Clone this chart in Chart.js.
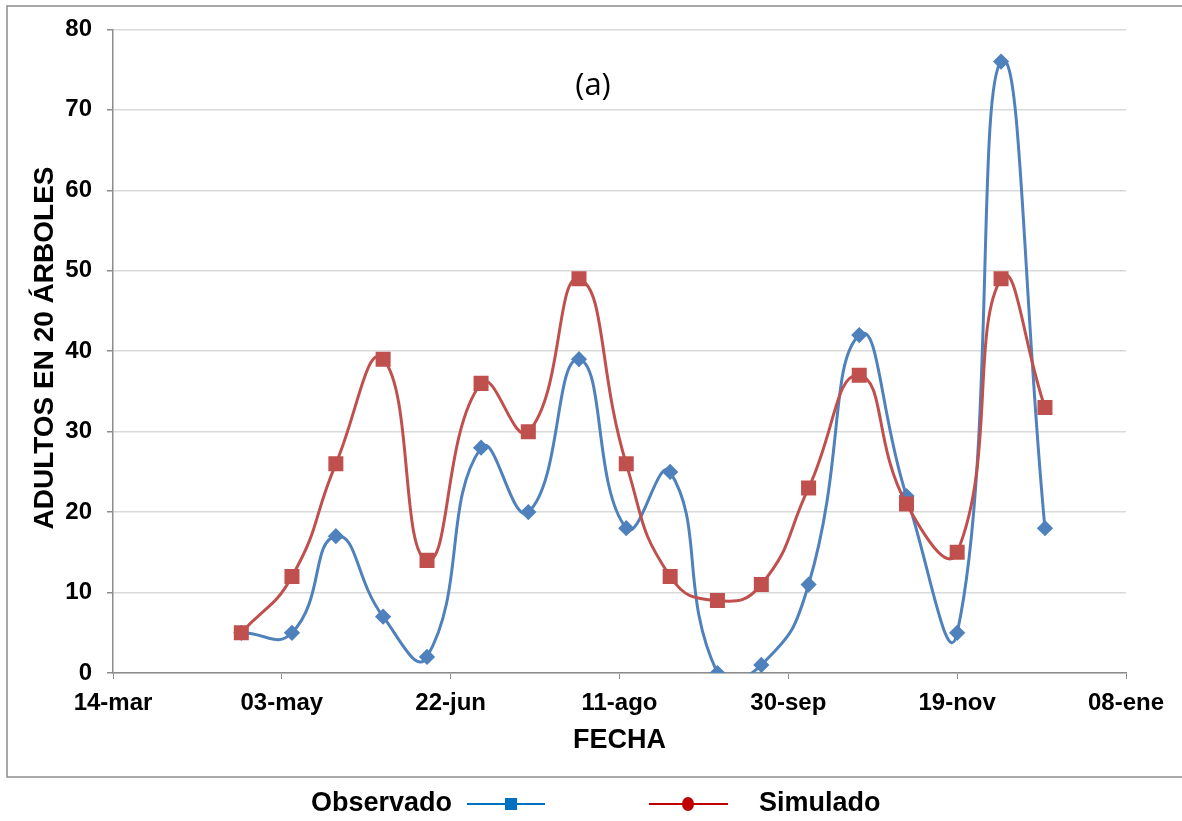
<!DOCTYPE html>
<html>
<head>
<meta charset="utf-8">
<title>Adultos en 20 árboles</title>
<script src="https://cdn.jsdelivr.net/npm/chart.js@4"></script>
<style>
  html, body { margin: 0; padding: 0; background: #ffffff; }
  #wrap { position: relative; width: 1182px; height: 821px; }
</style>
</head>
<body>
<div id="wrap"><canvas id="grafico" width="1182" height="821"></canvas></div>
<script>

// ==========================
// DATA
// ==========================

// days counted from 14-mar
const dias = [38, 53, 66, 80, 93, 109, 123, 138, 152, 165, 179, 192, 206, 221, 235, 250, 263, 276];

const observado = [5, 5, 17, 7, 2, 28, 20, 39, 18, 25, 0, 1, 11, 42, 22, 5, 76, 18];

const simulado = [5, 12, 26, 39, 14, 36, 30, 49, 26, 12, 9, 11, 23, 37, 21, 15, 49, 33];

const etiquetasFecha = ["14-mar", "03-may", "22-jun", "11-ago", "30-sep", "19-nov", "08-ene"];
const pasoFecha = 50;

const etiquetasY = [0, 10, 20, 30, 40, 50, 60, 70, 80];


// ==========================
// TEXT AND LEGEND PLUGIN
// ==========================

const textos = {

    id: "textos",

    afterDraw(chart) {

        const ctx = chart.ctx;
        const area = chart.chartArea;

        ctx.save();

        // outer frame
        ctx.strokeStyle = "#8c8c8c";
        ctx.lineWidth = 1.5;
        ctx.strokeRect(7, 6, 1210, 771);

        ctx.fillStyle = "#000000";
        ctx.textBaseline = "middle";
        ctx.textAlign = "center";

        // (a)
        ctx.font = "31px 'Open Sans', 'Noto Sans', sans-serif";
        ctx.fillText("(a)", 593, 86);

        // x title
        ctx.font = "bold 27px 'Liberation Sans', Arial, sans-serif";
        ctx.fillText("FECHA", (area.left + area.right) / 2, 741);

        // y title
        ctx.font = "bold 28px 'Liberation Sans', Arial, sans-serif";
        ctx.save();
        ctx.translate(45, 348);
        ctx.rotate(-Math.PI / 2);
        ctx.fillText("ADULTOS EN 20 ÁRBOLES", 0, 0);
        ctx.restore();

        // legend
        const ly = 804;
        ctx.font = "bold 27px 'Liberation Sans', Arial, sans-serif";
        ctx.textAlign = "right";
        ctx.fillText("Observado", 452, ly);
        ctx.textAlign = "left";
        ctx.fillText("Simulado", 759, ly);

        ctx.lineWidth = 2;
        ctx.strokeStyle = "#0070c0";
        ctx.beginPath();
        ctx.moveTo(467, ly);
        ctx.lineTo(545, ly);
        ctx.stroke();
        ctx.fillStyle = "#0070c0";
        ctx.fillRect(505, ly - 6, 12, 12);

        ctx.strokeStyle = "#c00000";
        ctx.beginPath();
        ctx.moveTo(649, ly);
        ctx.lineTo(728, ly);
        ctx.stroke();
        ctx.fillStyle = "#c00000";
        ctx.beginPath();
        ctx.ellipse(688, ly, 6, 7, 0, 0, Math.PI * 2);
        ctx.fill();

        ctx.restore();
    }
};


// ==========================
// LINE CHART
// ==========================

const canvas = document.getElementById("grafico");

new Chart(canvas, {

    type: "line",

    data: {

        datasets: [
            {
                label: "Observado",
                data: dias.map((d, i) => ({ x: d, y: observado[i] })),
                borderColor: "#4f81bd",
                backgroundColor: "#4f81bd",
                borderWidth: 3,
                pointStyle: "rectRot",
                pointRadius: 6,
                pointHoverRadius: 6,
                tension: 0.5,
                order: 1,
                fill: false
            },
            {
                label: "Simulado",
                data: dias.map((d, i) => ({ x: d, y: simulado[i] })),
                borderColor: "#c0504d",
                backgroundColor: "#c0504d",
                borderWidth: 3,
                pointStyle: "rect",
                pointRadius: 8.5,
                pointHoverRadius: 8.5,
                tension: 0.5,
                order: 0,
                fill: false
            }
        ]
    },

    options: {

        responsive: false,
        animation: false,
        devicePixelRatio: 1,

        elements: {
            line: { capBezierPoints: false }
        },

        layout: {
            padding: { top: 29, right: 56, left: 0, bottom: 0 }
        },

        plugins: {
            legend: { display: false },
            tooltip: { enabled: false }
        },

        scales: {

            x: {
                type: "linear",
                min: 0,
                max: pasoFecha * (etiquetasFecha.length - 1),
                afterBuildTicks: (scale) => {
                    scale.ticks = etiquetasFecha.map((t, i) => ({ value: i * pasoFecha }));
                },
                afterFit: (scale) => { scale.height = 821 - 673; },
                ticks: {
                    autoSkip: false,
                    maxRotation: 0,
                    padding: 10,
                    color: "#000000",
                    font: { family: "'Liberation Sans', Arial, sans-serif", size: 24, weight: "bold" },
                    callback: (value) => etiquetasFecha[Math.round(value / pasoFecha)]
                },
                grid: {
                    drawOnChartArea: false,
                    drawTicks: true,
                    tickLength: 6,
                    color: "#8c8c8c"
                },
                border: { color: "#8c8c8c", width: 1.5 }
            },

            y: {
                min: etiquetasY[0],
                max: etiquetasY[etiquetasY.length - 1],
                afterBuildTicks: (scale) => {
                    scale.ticks = etiquetasY.map(v => ({ value: v }));
                },
                afterFit: (scale) => { scale.width = 113; },
                ticks: {
                    padding: 15,
                    color: "#000000",
                    font: { family: "'Liberation Sans', Arial, sans-serif", size: 24, weight: "bold" }
                },
                grid: {
                    color: "#d9d9d9",
                    lineWidth: 1.5,
                    tickLength: 6,
                    tickColor: "#8c8c8c"
                },
                border: { color: "#8c8c8c", width: 1.5 }
            }
        }
    },

    plugins: [textos]
});
</script>
</body>
</html>
